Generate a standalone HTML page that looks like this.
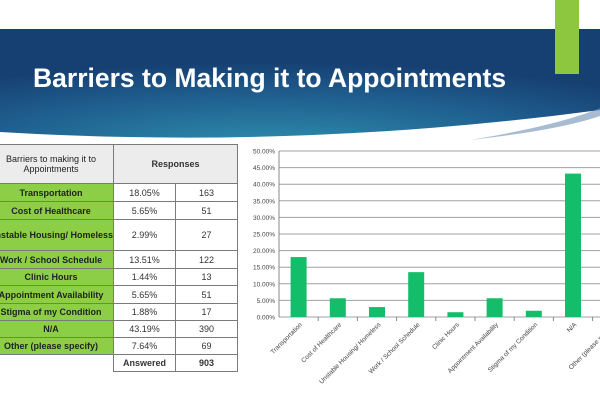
<!DOCTYPE html>
<html><head><meta charset="utf-8"><style>
body{margin:0;width:600px;height:400px;overflow:hidden;background:#fff;font-family:"Liberation Sans",sans-serif;position:relative}
.abs{position:absolute}
table{border-collapse:collapse;position:absolute;left:-12px;top:144px;font-size:9px}
td{border:1px solid #7a7a7a;text-align:center;padding:0;color:#333;white-space:nowrap}
td.g{background:#8ccf46;font-weight:bold;color:#222}
td.h{background:#ececec;font-weight:bold}
</style></head><body>
<svg class="abs" style="left:0;top:0" width="600" height="140">
<defs><radialGradient id="bg" cx="0.45" cy="1.1" r="0.8"><stop offset="0" stop-color="#2e8fae"/><stop offset="0.6" stop-color="#1f5f8f"/><stop offset="1" stop-color="#163f72"/></radialGradient></defs>
<path d="M0 29 L600 29 L600 110 Q300 150 0 132 Z" fill="url(#bg)"/>
<path d="M470 140 Q560 125 600 108 L600 116 Q560 130 470 140Z" fill="#6d8fb5" opacity="0.6"/>
<rect x="555" y="0" width="24" height="74" fill="#8dc63f"/>
<text x="33" y="87" fill="#fff" font-size="26.5" font-weight="bold" font-family="Liberation Sans, sans-serif">Barriers to Making it to Appointments</text>
</svg>
<table>
<tr style="height:39px"><td class="h" style="width:121px;font-weight:normal;color:#222">Barriers to making it to<br>Appointments</td><td class="h" colspan="2">Responses</td></tr>
<tr style="height:18px"><td class="g">Transportation</td><td style="width:61px">18.05%</td><td style="width:61px">163</td></tr>
<tr style="height:18px"><td class="g">Cost of Healthcare</td><td>5.65%</td><td>51</td></tr>
<tr style="height:31px"><td class="g">Unstable Housing/ Homeless</td><td>2.99%</td><td>27</td></tr>
<tr style="height:18px"><td class="g">Work / School Schedule</td><td>13.51%</td><td>122</td></tr>
<tr style="height:17px"><td class="g">Clinic Hours</td><td>1.44%</td><td>13</td></tr>
<tr style="height:18px"><td class="g">Appointment Availability</td><td>5.65%</td><td>51</td></tr>
<tr style="height:17px"><td class="g">Stigma of my Condition</td><td>1.88%</td><td>17</td></tr>
<tr style="height:17px"><td class="g">N/A</td><td>43.19%</td><td>390</td></tr>
<tr style="height:17px"><td class="g">Other (please specify)</td><td>7.64%</td><td>69</td></tr>
<tr style="height:17px"><td style="border-left:none;border-bottom:none"></td><td style="font-weight:bold">Answered</td><td style="font-weight:bold">903</td></tr>
</table>
<svg id="chart" class="abs" style="left:0;top:0" width="600" height="400"></svg>
<script>
const categories=["Transportation","Cost of Healthcare","Unstable Housing/ Homeless","Work / School Schedule","Clinic Hours","Appointment Availability","Stigma of my Condition","N/A","Other (please specify)"];
const values=[18.05,5.65,2.99,13.51,1.44,5.65,1.88,43.19,7.64];
const ticks=[0,5,10,15,20,25,30,35,40,45,50];
const tickLabels=["0.00%","5.00%","10.00%","15.00%","20.00%","25.00%","30.00%","35.00%","40.00%","45.00%","50.00%"];
const svg=document.getElementById('chart');const NS='http://www.w3.org/2000/svg';
const x0=279,base=317,yTop=151,step=39.2,bw=16;
const y=v=>base-(v/50)*(base-yTop);
const xc=i=>x0+step*(i+0.5);
function mk(t,a){const e=document.createElementNS(NS,t);for(const k in a)e.setAttribute(k,a[k]);svg.appendChild(e);return e;}
ticks.forEach((t,i)=>{
 const l=mk('line',{x1:x0,x2:600,y1:y(t),y2:y(t),stroke:'#a0a0a0','stroke-width':1});
 
 
 const tx=mk('text',{x:x0-4,y:y(t)+2.5,'text-anchor':'end','font-size':6.5,fill:'#444'});
 tx.textContent=tickLabels[i];
 
 
});
const ax=mk('line',{x1:x0,x2:x0,y1:yTop,y2:base,stroke:'#888'});


categories.forEach((c,i)=>{
 const b=mk('rect',{x:xc(i)-bw/2,y:y(values[i]),width:bw,height:base-y(values[i]),fill:'#13bd6a'});
 
 
 mk('line',{x1:x0+step*(i+1),x2:x0+step*(i+1),y1:base,y2:base+4,stroke:'#888'});
 const t=mk('text',{x:xc(i)+4,y:base+8,'text-anchor':'end','font-size':6.5,fill:'#444',transform:`rotate(-45 ${xc(i)+4} ${base+8})`});
 t.textContent=c;
 
 
});
</script>
</body></html>
